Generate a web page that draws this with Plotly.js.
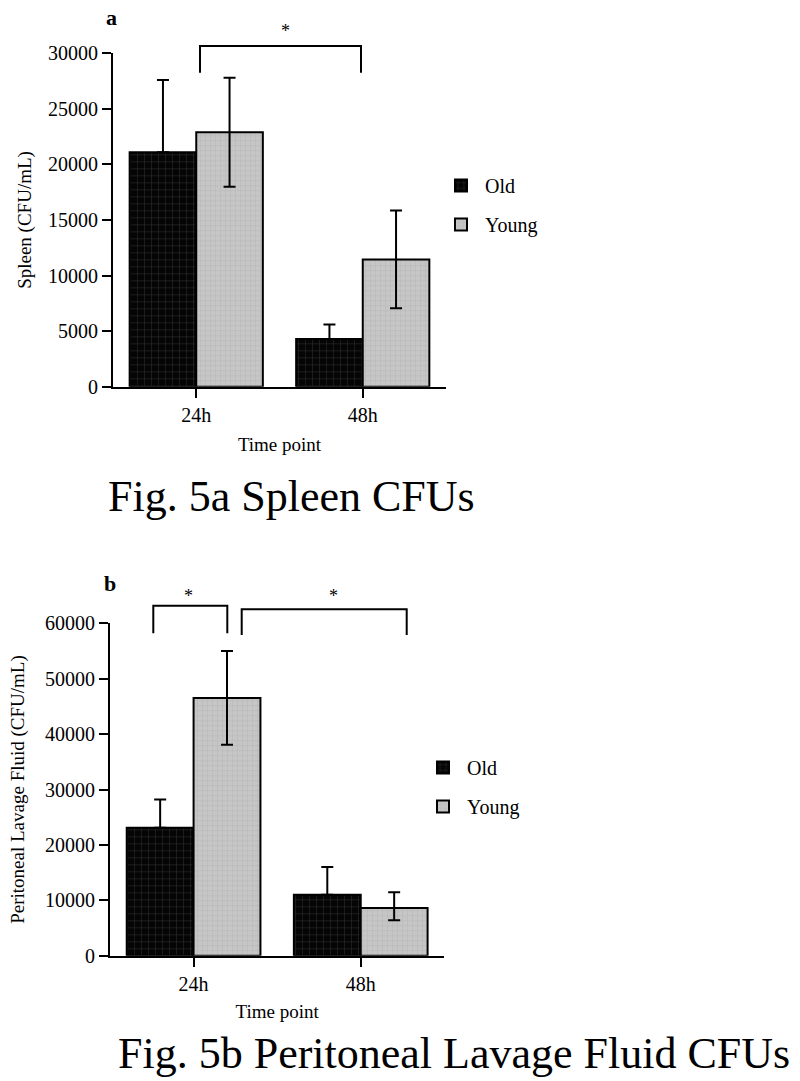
<!DOCTYPE html>
<html>
<head>
<meta charset="utf-8">
<script src="https://cdn.plot.ly/plotly-3.0.1.min.js"></script>
<style>html,body{margin:0;padding:0;background:#fff}#chart{width:800px;height:1081px}</style>
</head>
<body>
<div id="chart"></div>
<script>
// ---- data ----
const timePoints = ["24h", "48h"];
const groups = ["Old", "Young"];

// Panel a: Spleen (CFU/mL)
const spleenOld = [21100, 4300];
const spleenOldErr = [6500, 1300];
const spleenYoung = [22900, 11450];
const spleenYoungErr = [4900, 4400];

// Panel b: Peritoneal Lavage Fluid (CFU/mL)
const plfOld = [23100, 11000];
const plfOldErr = [5100, 5000];
const plfYoung = [46500, 8600];
const plfYoungErrPlus = [8500, 2850];
const plfYoungErrMinus = [8400, 2200];

const spleenTicks = [0, 5000, 10000, 15000, 20000, 25000, 30000];
const plfTicks = [0, 10000, 20000, 30000, 40000, 50000, 60000];

const captionA = "Fig. 5a Spleen CFUs";
const captionB = "Fig. 5b Peritoneal Lavage Fluid CFUs";

// ---- style ----
const FONT = "Liberation Serif";
const W = 800, H = 1081;
const px = x => x / W;
const py = y => 1 - y / H;

const oldMarker = {
  color: "black",
  line: {color: "black", width: 2},
  pattern: {shape: "+", bgcolor: "#050505", fgcolor: "#3a3a3a", size: 7, solidity: 0.12}
};
const youngMarker = {
  color: "#c4c4c4",
  line: {color: "black", width: 2},
  pattern: {shape: "+", bgcolor: "#c6c6c6", fgcolor: "#b2b2b2", size: 5, solidity: 0.15}
};
function err(plus, minus) {
  return {type: "data", array: plus, arrayminus: minus, symmetric: false,
          color: "black", thickness: 2, width: 6, visible: true};
}
const zeros = [0, 0];

const traces = [
  {type: "bar", name: groups[0], x: timePoints, y: spleenOld, marker: oldMarker,
   error_y: err(spleenOldErr, zeros), xaxis: "x", yaxis: "y", legend: "legend", legendgroup: "a0"},
  {type: "bar", name: groups[1], x: timePoints, y: spleenYoung, marker: youngMarker,
   error_y: err(spleenYoungErr, spleenYoungErr), xaxis: "x", yaxis: "y", legend: "legend", legendgroup: "a1"},
  {type: "bar", name: groups[0], x: timePoints, y: plfOld, marker: oldMarker,
   error_y: err(plfOldErr, zeros), xaxis: "x2", yaxis: "y2", legend: "legend2", legendgroup: "b0"},
  {type: "bar", name: groups[1], x: timePoints, y: plfYoung, marker: youngMarker,
   error_y: err(plfYoungErrPlus, plfYoungErrMinus), xaxis: "x2", yaxis: "y2", legend: "legend2", legendgroup: "b1"}
];

const axisCommon = {
  showline: true, linewidth: 2, linecolor: "black", mirror: false,
  ticks: "outside", ticklen: 9, tickwidth: 2, tickcolor: "black",
  showgrid: false, zeroline: false,
  tickfont: {family: FONT, size: 20, color: "black"},
  fixedrange: true
};

function bracket(x0, x1, yTop, yBot) {
  return {type: "path", xref: "paper", yref: "paper",
    path: `M${px(x0)},${py(yBot)} L${px(x0)},${py(yTop)} L${px(x1)},${py(yTop)} L${px(x1)},${py(yBot)}`,
    line: {color: "black", width: 2}};
}

const legendCommon = {
  font: {family: FONT, size: 20, color: "black"},
  bgcolor: "rgba(0,0,0,0)", borderwidth: 0,
  xanchor: "left", yanchor: "top", tracegroupgap: 10, traceorder: "grouped",
  itemwidth: 38
};

const titleFont = {family: FONT, size: 19, color: "black"};

const layout = {
  width: W, height: H,
  margin: {l: 0, r: 0, t: 0, b: 0},
  paper_bgcolor: "white", plot_bgcolor: "white",
  font: {family: FONT, color: "black", size: 19},
  barmode: "group", bargap: 0.2, bargroupgap: 0,
  xaxis: Object.assign({}, axisCommon, {
    domain: [px(113), px(446)], anchor: "y", type: "category", range: [-0.5, 1.5],
    title: {text: "Time point", font: titleFont, standoff: 13}
  }),
  yaxis: Object.assign({}, axisCommon, {
    domain: [py(386.7), py(53.3)], anchor: "x", range: [0, 30000],
    tickvals: spleenTicks, tickformat: "d",
    title: {text: "Spleen (CFU/mL)", font: titleFont, standoff: 11}
  }),
  xaxis2: Object.assign({}, axisCommon, {
    domain: [px(110), px(444.3)], anchor: "y2", type: "category", range: [-0.5, 1.5],
    title: {text: "Time point", font: titleFont, standoff: 11}
  }),
  yaxis2: Object.assign({}, axisCommon, {
    domain: [py(955.7), py(623.3)], anchor: "x2", range: [0, 60000],
    tickvals: plfTicks, tickformat: "d",
    title: {text: "Peritoneal Lavage Fluid (CFU/mL)", font: titleFont, standoff: 15}
  }),
  legend: Object.assign({}, legendCommon, {x: px(437), y: py(166)}),
  legend2: Object.assign({}, legendCommon, {x: px(419), y: py(748)}),
  shapes: [
    bracket(200, 361, 46, 72.7),
    bracket(153.3, 227.3, 605.7, 633.3),
    bracket(241.7, 406.7, 609.3, 635)
  ],
  annotations: [
    {text: "<b>a</b>", xref: "paper", yref: "paper", x: px(111), y: py(17), xanchor: "center", yanchor: "middle",
     showarrow: false, font: {family: FONT, size: 22, color: "black"}},
    {text: "<b>b</b>", xref: "paper", yref: "paper", x: px(110), y: py(583), xanchor: "center", yanchor: "middle",
     showarrow: false, font: {family: FONT, size: 22, color: "black"}},
    {text: "*", xref: "paper", yref: "paper", x: px(285), y: py(31), xanchor: "center", yanchor: "middle",
     showarrow: false, font: {family: FONT, size: 18, color: "black"}},
    {text: "*", xref: "paper", yref: "paper", x: px(188), y: py(596), xanchor: "center", yanchor: "middle",
     showarrow: false, font: {family: FONT, size: 18, color: "black"}},
    {text: "*", xref: "paper", yref: "paper", x: px(333), y: py(596), xanchor: "center", yanchor: "middle",
     showarrow: false, font: {family: FONT, size: 18, color: "black"}},
    {text: captionA, xref: "paper", yref: "paper", x: px(106), y: py(496), xanchor: "left", yanchor: "middle",
     showarrow: false, font: {family: FONT, size: 44, color: "black"}},
    {text: captionB, xref: "paper", yref: "paper", x: px(116), y: py(1053), xanchor: "left", yanchor: "middle",
     showarrow: false, font: {family: FONT, size: 44, color: "black"}}
  ]
};

Plotly.newPlot("chart", traces, layout, {displayModeBar: false, staticPlot: true});
</script>
</body>
</html>
